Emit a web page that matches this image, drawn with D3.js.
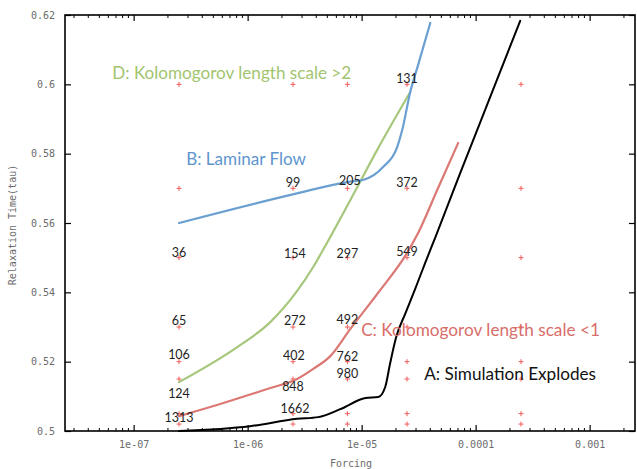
<!DOCTYPE html>
<html>
<head>
<meta charset="utf-8">
<script src="https://cdn.jsdelivr.net/npm/d3@7"></script>
<style>
  html, body { margin: 0; padding: 0; background: #fff; }
  svg { display: block; }
</style>
</head>
<body>
<svg id="chart" width="637" height="469"></svg>
<script>
// ---------------- DATA ----------------
const forcingTicks = [1e-7, 1e-6, 1e-5, 1e-4, 1e-3];
const forcingTickLabels = ["1e-07", "1e-06", "1e-05", "0.0001", "0.001"];
const tauTicks = [0.5, 0.52, 0.54, 0.56, 0.58, 0.6, 0.62];
const tauTickLabels = ["0.5", "0.52", "0.54", "0.56", "0.58", "0.6", "0.62"];

// simulation runs (red + markers)
const runForcing = [2.5e-7, 2.5e-6, 7.5e-6, 2.5e-5, 2.5e-4];
const runTau = [0.502, 0.505, 0.515, 0.52, 0.53, 0.55, 0.57, 0.6];

// number annotations (text, forcing, tau)
const labelText    = ["131", "99", "205", "372", "36", "154", "297", "549", "65", "272", "492", "106", "402", "762", "124", "848", "980", "1313", "1662"];
const labelForcing = [2.5e-5, 2.5e-6, 7.9e-6, 2.5e-5, 2.5e-7, 2.6e-6, 7.5e-6, 2.5e-5, 2.5e-7, 2.6e-6, 7.5e-6, 2.5e-7, 2.55e-6, 7.5e-6, 2.5e-7, 2.5e-6, 7.5e-6, 2.5e-7, 2.6e-6];
const labelTau     = [0.6018, 0.5718, 0.5724, 0.5718, 0.5516, 0.5513, 0.5513, 0.5519, 0.5320, 0.5320, 0.5323, 0.5222, 0.5219, 0.5216, 0.5107, 0.5127, 0.5167, 0.5038, 0.5066];

// A: Simulation Explodes (black)
const curveAForcing = [2.5e-7, 1.05e-6, 2.72e-6, 4.16e-6, 6.49e-6, 1.08e-5, 1.40e-5, 1.61e-5, 1.78e-5, 2.01e-5, 2.41e-5, 2.95e-5, 3.61e-5, 4.51e-5, 7.32e-5, 1.34e-4, 2.46e-4];
const curveATau     = [0.5, 0.5014, 0.5035, 0.5040, 0.5063, 0.5095, 0.5098, 0.5127, 0.5196, 0.5271, 0.5338, 0.5410, 0.5485, 0.5565, 0.5744, 0.5963, 0.6183];
// B: Laminar Flow (blue)
const curveBForcing = [2.5e-7, 2.6e-6, 7.5e-6, 1.03e-5, 1.55e-5, 2.05e-5, 2.27e-5, 2.67e-5, 3.13e-5, 4.0e-5];
const curveBTau     = [0.56, 0.5684, 0.5718, 0.5724, 0.5762, 0.5819, 0.5868, 0.5978, 0.6056, 0.6177];
// C: Kolomogorov length scale <1 (red)
const curveCForcing = [2.5e-7, 5.75e-7, 1.58e-6, 2.72e-6, 3.76e-6, 5.31e-6, 7.94e-6, 1.19e-5, 1.46e-5, 2.41e-5, 3.13e-5, 4.60e-5, 7.03e-5];
const curveCTau     = [0.5043, 0.5078, 0.5124, 0.5150, 0.5179, 0.5216, 0.5294, 0.5369, 0.5407, 0.5505, 0.5571, 0.5695, 0.5831];
// D: Kolomogorov length scale >2 (green)
const curveDForcing = [2.5e-7, 8.1e-7, 1.58e-6, 2.72e-6, 3.76e-6, 4.8e-6, 8.97e-6, 1.37e-5, 2.67e-5];
const curveDTau     = [0.5141, 0.5242, 0.5314, 0.5404, 0.5473, 0.5534, 0.5698, 0.5811, 0.5978];

// region annotations
const regionText    = ["D: Kolomogorov length scale >2", "B: Laminar Flow", "C: Kolomogorov length scale <1", "A: Simulation Explodes"];
const regionForcing = [6.5e-8, 2.89e-7, 9.9e-6, 3.54e-5];
const regionTau     = [0.6033, 0.5785, 0.5294, 0.5167];

// ---------------- LAYOUT / STYLE ----------------
const plot = { left: 65, right: 635, top: 15, bottom: 431 };
const regionColor = ["#a2c56f", "#5e95cf", "#d86e69", "#111111"];
const regionWidth = [239, 120, 239, 172];
const curveColor = { A: "#000000", B: "#6a9fd2", C: "#db7874", D: "#a6c77c" };

const svg = d3.select("#chart");
const x = d3.scaleLog().domain([2.5e-8, 2.5e-3]).range([plot.left, plot.right]);
const y = d3.scaleLinear().domain([0.5, 0.62]).range([plot.bottom, plot.top]);

const monoFont = "'DejaVu Sans Mono', monospace";
const monoSize = 10;
const tickGray = "#6b6b6b";

// minor ticks on log axis (2..9 in each decade)
const minorTicks = [];
for (let e = -8; e <= -3; e++) {
  for (let m = 2; m <= 9; m++) {
    const v = m * Math.pow(10, e);
    if (v > x.domain()[0] && v < x.domain()[1]) minorTicks.push(v);
  }
}

// Bottom axis
const xAxis = d3.axisBottom(x).tickValues(forcingTicks)
  .tickFormat((d, i) => forcingTickLabels[i]).tickSize(-6).tickPadding(10);
const gx = svg.append("g").attr("transform", `translate(0,${plot.bottom})`).call(xAxis);
gx.select(".domain").remove();
gx.selectAll("text").attr("font-family", monoFont).attr("font-size", monoSize).attr("fill", tickGray);
gx.selectAll("line").attr("stroke", "#000").attr("stroke-width", 1.2);

// Top axis mirror ticks
const gxt = svg.append("g").attr("transform", `translate(0,${plot.top})`)
  .call(d3.axisTop(x).tickValues(forcingTicks).tickFormat("").tickSize(-6));
gxt.select(".domain").remove();
gxt.selectAll("line").attr("stroke", "#000").attr("stroke-width", 1.2);

// minor ticks bottom & top
[plot.bottom, plot.top].forEach((yy, k) => {
  svg.append("g").selectAll("line").data(minorTicks).join("line")
    .attr("x1", d => x(d)).attr("x2", d => x(d))
    .attr("y1", yy).attr("y2", k === 0 ? yy - 3 : yy + 3)
    .attr("stroke", "#000").attr("stroke-width", 1);
});

// Left axis
const yAxis = d3.axisLeft(y).tickValues(tauTicks)
  .tickFormat((d, i) => tauTickLabels[i]).tickSize(-6).tickPadding(10);
const gy = svg.append("g").attr("transform", `translate(${plot.left},0)`).call(yAxis);
gy.select(".domain").remove();
gy.selectAll("text").attr("font-family", monoFont).attr("font-size", monoSize).attr("fill", tickGray);
gy.selectAll("line").attr("stroke", "#000").attr("stroke-width", 1.2);

// Right axis mirror ticks
const gyr = svg.append("g").attr("transform", `translate(${plot.right},0)`)
  .call(d3.axisRight(y).tickValues(tauTicks).tickFormat("").tickSize(-6));
gyr.select(".domain").remove();
gyr.selectAll("line").attr("stroke", "#000").attr("stroke-width", 1.2);

// Frame
svg.append("rect")
  .attr("x", plot.left).attr("y", plot.top)
  .attr("width", plot.right - plot.left).attr("height", plot.bottom - plot.top)
  .attr("fill", "none").attr("stroke", "#000").attr("stroke-width", 1.6);

// Axis titles
svg.append("text").attr("x", (plot.left + plot.right) / 2 + 1).attr("y", 467)
  .attr("text-anchor", "middle").attr("font-family", monoFont).attr("font-size", monoSize)
  .attr("fill", tickGray).text("Forcing");
svg.append("text").attr("transform", `translate(16,${(plot.top + plot.bottom) / 2 + 2}) rotate(-90)`)
  .attr("text-anchor", "middle").attr("font-family", monoFont).attr("font-size", monoSize)
  .attr("fill", tickGray).text("Relaxation Time(tau)");

// Markers (+)
const runs = [];
runForcing.forEach(f => runTau.forEach(t => runs.push({ f, t })));
const mk = svg.append("g").attr("stroke", "#f25c5c").attr("stroke-width", 1);
mk.selectAll("path").data(runs).join("path")
  .attr("d", d => {
    const cx = x(d.f), cy = y(d.t), s = 2.5;
    return `M${cx - s},${cy}H${cx + s}M${cx},${cy - s}V${cy + s}`;
  });

// Curves
const line = d3.line().x(d => x(d[0])).y(d => y(d[1])).curve(d3.curveMonotoneX);
const curves = [
  { key: "D", f: curveDForcing, t: curveDTau },
  { key: "B", f: curveBForcing, t: curveBTau },
  { key: "C", f: curveCForcing, t: curveCTau },
  { key: "A", f: curveAForcing, t: curveATau }
];
curves.forEach(c => {
  svg.append("path")
    .datum(c.f.map((f, i) => [f, c.t[i]]))
    .attr("d", line)
    .attr("fill", "none")
    .attr("stroke", curveColor[c.key])
    .attr("stroke-width", c.key === "A" ? 2 : 2.2)
    .attr("stroke-linejoin", "round").attr("stroke-linecap", "round");
});

// Number labels
const labelFont = "Lato, 'Open Sans', sans-serif";
svg.append("g").selectAll("text").data(labelText).join("text")
  .attr("x", (d, i) => x(labelForcing[i]))
  .attr("y", (d, i) => y(labelTau[i]))
  .attr("text-anchor", "middle").attr("dominant-baseline", "central")
  .attr("font-family", labelFont).attr("font-size", 12.5).attr("fill", "#1e1e1e")
  .text(d => d);

// Region annotations
regionText.forEach((txt, i) => {
  const t = svg.append("text")
    .attr("x", x(regionForcing[i])).attr("y", y(regionTau[i]))
    .attr("dominant-baseline", "central")
    .attr("font-family", labelFont).attr("font-size", 16)
    .attr("fill", regionColor[i]).text(txt);
  const w = t.node().getComputedTextLength();
  t.attr("font-size", 16 * regionWidth[i] / w);
});
</script>
</body>
</html>
